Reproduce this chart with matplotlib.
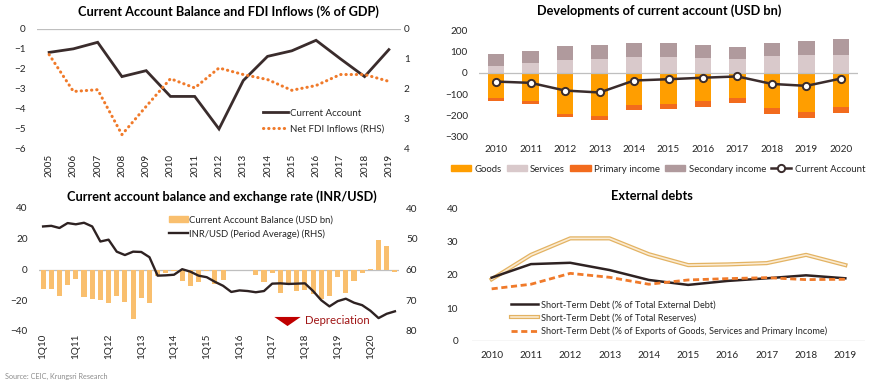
import matplotlib
matplotlib.use("Agg")
import matplotlib.pyplot as plt
from matplotlib.lines import Line2D
from matplotlib.patches import Patch
import numpy as np

plt.rcParams['font.family'] = ['Lato', 'DejaVu Sans']

# ---------------- data ----------------
# Chart 1: Current account balance and FDI inflows (% of GDP)
years1 = ['2005', '2006', '2007', '2008', '2009', '2010', '2011', '2012',
          '2013', '2014', '2015', '2016', '2017', '2018', '2019']
ca_gdp = [-1.18, -1.0, -0.67, -2.4, -2.1, -3.4, -3.4, -5.04,
          -2.6, -1.38, -1.1, -0.57, -1.5, -2.4, -1.04]
fdi_gdp = [0.86, 2.1, 2.04, 3.55, 2.6, 1.67, 1.98, 1.31,
           1.53, 1.70, 2.06, 1.9, 1.53, 1.53, 1.76]

# Chart 2: Developments of current account (USD bn)
years2 = ['2010', '2011', '2012', '2013', '2014', '2015', '2016', '2017', '2018', '2019', '2020']
goods = [-117, -130, -192, -202, -150, -147, -133, -116, -164, -183, -161]
services = [34, 48, 61, 63, 72, 75, 67, 64, 77, 83, 83]
primary_income = [-13, -18, -16, -18, -23, -23, -25, -25, -28, -29, -27]
secondary_income = [52, 54, 64, 65, 65, 66, 63, 58, 60, 67, 75]
current_account = [-41, -47, -83, -92, -36, -30, -23, -17, -52, -61, -27]

# Chart 3: Current account balance (USD bn) and INR/USD, quarterly 1Q10-4Q20
quarters = [f'{q}Q{y:02d}' for y in range(10, 21) for q in range(1, 5)]
cab_q = [-13, -13, -17, -10, -6.5, -18, -19, -20, -21.5, -17, -21, -32,
         -18.5, -21.5, -4, -2.5, -1, -7.4, -11, -8, -1, -9.5, -7, -0.5,
         -0.3, -0.5, -3.5, -8, -2.5, -15, -8.5, -14, -13.5, -16, -19, -17.5,
         -5, -15, -7.5, -2.5, 0.6, 19.5, 15.5, -1.8]
inr_usd = [46.0, 45.8, 46.5, 44.9, 45.3, 44.8, 46.0, 50.9, 50.3, 54.2, 55.3, 54.2,
           54.3, 56.0, 62.0, 61.9, 61.7, 59.9, 60.7, 62.0, 62.5, 64.0, 65.3, 67.3,
           66.8, 67.0, 67.4, 67.0, 64.6, 64.5, 64.7, 64.6, 64.5, 67.0, 70.0, 72.0,
           70.3, 69.5, 70.8, 71.6, 73.4, 75.8, 74.4, 73.6]
q_tick_labels = ['1Q10', '1Q11', '1Q12', '1Q13', '1Q14', '1Q15', '1Q16',
                 '1Q17', '1Q18', '1Q19', '1Q20']

# Chart 4: External debts
years4 = ['2010', '2011', '2012', '2013', '2014', '2015', '2016', '2017', '2018', '2019']
std_ext_debt = [19.2, 23.3, 23.7, 21.5, 18.5, 17.0, 18.2, 19.0, 19.9, 19.0]
std_reserves = [18.7, 26.1, 31.1, 31.1, 26.3, 23.0, 23.2, 23.6, 26.1, 23.0]
std_exports = [15.8, 17.2, 20.5, 19.3, 17.2, 18.5, 18.9, 19.2, 18.6, 18.7]

# ---------------- layout helpers ----------------
W, H = 870, 385
fig = plt.figure(figsize=(W / 100, H / 100), dpi=100)


def rect(l, t, r, b):
    return [l / W, 1 - b / H, (r - l) / W, (b - t) / H]


def fpos(x, y):
    return x / W, 1 - y / H


TXT = '#262626'
GRID = '#BFBFBF'
TICK_FS = 7.2
TITLE_FS = 9.2


def clean(ax):
    for s in ax.spines.values():
        s.set_visible(False)
    ax.tick_params(length=0, labelsize=TICK_FS, colors=TXT)


# ---------------- Chart 1 ----------------
ax1 = fig.add_axes(rect(37, 29, 401, 148))
x1 = np.arange(len(years1))
clean(ax1)
ax1.set_xlim(-0.5, len(years1) - 0.5)
ax1.set_ylim(-6, 0)
ax1.set_yticks(range(-6, 1))
ax1.axhline(0, color=GRID, lw=0.9)
l_ca, = ax1.plot(x1, ca_gdp, color='#3A2C2C', lw=2.0, solid_joinstyle='miter')
ax1.set_xticks(x1)
ax1.set_xticklabels(years1, rotation=90)
ax1.tick_params(axis='x', pad=4)
ax1.tick_params(axis='y', pad=8)
ax1r = ax1.twinx()
clean(ax1r)
ax1r.set_ylim(4, 0)
ax1r.set_yticks(range(0, 5))
ax1r.tick_params(axis='y', pad=2)
l_fdi, = ax1r.plot(x1, fdi_gdp, color='#F07A2A', lw=2.2, linestyle=(0, (0.1, 1.6)),
                   dash_capstyle='round')
fig.legend([l_ca, l_fdi], ['Current Account', 'Net FDI Inflows (RHS)'],
           loc='upper left', bbox_to_anchor=fpos(254, 100), frameon=False,
           fontsize=7.0, handlelength=2.6, handletextpad=0.25, labelspacing=0.7,
           labelcolor=TXT)
fig.text(*fpos(228, 12), 'Current Account Balance and FDI Inflows (% of GDP)',
         ha='center', va='center', fontsize=TITLE_FS, fontweight='bold', color='#000000')

# ---------------- Chart 2 ----------------
ax2 = fig.add_axes(rect(479, 30, 858, 137))
x2 = np.arange(len(years2))
clean(ax2)
bw = 0.48
c_goods, c_serv, c_prim, c_sec = '#FF9E00', '#D9C9CB', '#F26B1D', '#B09A9D'
ax2.bar(x2, services, bw, color=c_serv, zorder=2)
ax2.bar(x2, secondary_income, bw, bottom=services, color=c_sec, zorder=2)
ax2.bar(x2, goods, bw, color=c_goods, zorder=2)
ax2.bar(x2, primary_income, bw, bottom=goods, color=c_prim, zorder=2)
ax2.axhline(0, color=GRID, lw=0.9, zorder=3)
ax2.plot(x2, current_account, color='#3A2C2C', lw=1.8, marker='o', ms=5.2,
         mfc='white', mec='#3A2C2C', mew=1.4, zorder=4)
ax2.set_xlim(-0.5, len(years2) - 0.5)
ax2.set_ylim(-300, 200)
ax2.set_yticks(range(-300, 201, 100))
ax2.set_xticks(x2)
ax2.set_xticklabels(years2)
ax2.tick_params(axis='x', pad=6)
ax2.tick_params(axis='y', pad=8)
h2 = [Patch(color=c_goods), Patch(color=c_serv), Patch(color=c_prim), Patch(color=c_sec),
      Line2D([], [], color='#3A2C2C', lw=1.8, marker='o', ms=5.2, mfc='white',
             mec='#3A2C2C', mew=1.4)]
fig.legend(h2, ['Goods', 'Services', 'Primary income', 'Secondary income', 'Current Account'],
           loc='center left', bbox_to_anchor=fpos(444, 169), ncol=5, frameon=False,
           fontsize=6.9, handlelength=2.1, handleheight=0.6, handletextpad=0.35,
           columnspacing=0.55, borderpad=0.2, labelcolor=TXT)
fig.text(*fpos(659, 11), 'Developments of current account (USD bn)',
         ha='center', va='center', fontsize=TITLE_FS, fontweight='bold', color='#000000')

# ---------------- Chart 3 ----------------
ax3 = fig.add_axes(rect(39, 208, 399, 331))
x3 = np.arange(len(quarters))
clean(ax3)
ax3.bar(x3, cab_q, 0.62, color='#F9BF6E', zorder=2)
ax3.axhline(0, color=GRID, lw=0.9, zorder=1)
ax3.set_xlim(-0.5, len(quarters) - 0.5)
ax3.set_ylim(-40, 40)
ax3.set_yticks(range(-40, 41, 20))
ax3.set_xticks([quarters.index(q) for q in q_tick_labels])
ax3.set_xticklabels(q_tick_labels, rotation=90)
ax3.tick_params(axis='x', pad=2)
ax3.tick_params(axis='y', pad=8)
ax3r = ax3.twinx()
clean(ax3r)
ax3r.set_ylim(80, 40)
ax3r.set_yticks(range(40, 81, 10))
ax3r.tick_params(axis='y', pad=5)
l_inr, = ax3r.plot(x3, inr_usd, color='#2E2222', lw=1.7)
fig.legend([Patch(color='#F9BF6E'), l_inr],
           ['Current Account Balance (USD bn)', 'INR/USD (Period Average) (RHS)'],
           loc='upper left', bbox_to_anchor=fpos(161, 207), frameon=False,
           fontsize=6.8, handlelength=1.95, handleheight=0.7, handletextpad=0.15,
           labelspacing=0.5, labelcolor=TXT)
tri = [(-1.45, 0.5), (1.45, 0.5), (0, -0.5)]
ax3r.plot([29.8], [76.6], marker=tri, ms=19, color='#C00000', mec='none',
          ls='none', zorder=5, clip_on=False)
fig.text(*fpos(305, 321), 'Depreciation', ha='left', va='center', fontsize=8.2,
         color='#A01515')
fig.text(*fpos(222, 197), 'Current account balance and exchange rate (INR/USD)',
         ha='center', va='center', fontsize=TITLE_FS, fontweight='bold', color='#000000')
fig.text(*fpos(5, 376), 'Source: CEIC, Krungsri Research', ha='left', va='center',
         fontsize=5.2, color='#8C8C8C')

# ---------------- Chart 4 ----------------
ax4 = fig.add_axes(rect(472, 209, 865, 341))
x4 = np.arange(len(years4))
clean(ax4)
ax4.axhline(0, color=GRID, lw=0.9)
ax4.plot(x4, std_reserves, color='#E3B363', lw=3.0, solid_joinstyle='round')
ax4.plot(x4, std_reserves, color='#FBEBD2', lw=1.2, solid_joinstyle='round')
l_ext, = ax4.plot(x4, std_ext_debt, color='#2E2222', lw=1.8, solid_joinstyle='round')
l_exp, = ax4.plot(x4, std_exports, color='#F07A2A', lw=2.0, linestyle=(0, (2.2, 1.3)))
ax4.set_xlim(-0.5, len(years4) - 0.5)
ax4.set_ylim(0, 40)
ax4.set_yticks(range(0, 41, 10))
ax4.set_xticks(x4)
ax4.set_xticklabels(years4)
ax4.tick_params(axis='x', pad=7)
ax4.tick_params(axis='y', pad=10)
h_res = (Line2D([], [], color='#E3B363', lw=3.0), Line2D([], [], color='#FBEBD2', lw=1.2))
fig.legend([l_ext, h_res, l_exp],
           ['Short-Term Debt (% of Total External Debt)',
            'Short-Term Debt (% of Total Reserves)',
            'Short-Term Debt (% of Exports of Goods, Services and Primary Income)'],
           loc='upper left', bbox_to_anchor=fpos(503, 292), frameon=False,
           fontsize=6.6, handlelength=2.9, handletextpad=0.3, labelspacing=0.45,
           labelcolor=TXT)
fig.text(*fpos(652, 196), 'External debts', ha='center', va='center',
         fontsize=TITLE_FS, fontweight='bold', color='#000000')

fig.savefig('out.png', dpi=100)
